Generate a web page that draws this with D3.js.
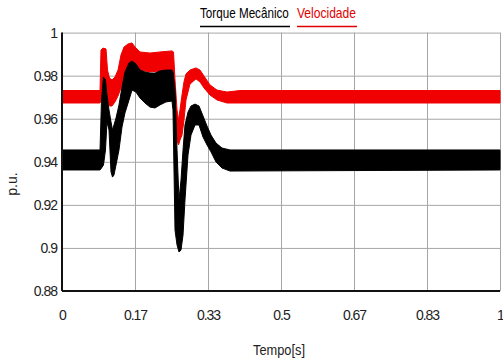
<!DOCTYPE html>
<html><head><meta charset="utf-8">
<script src="https://cdn.jsdelivr.net/npm/d3@7"></script>
<style>
html,body{margin:0;padding:0;background:#fff;}
svg{display:block;}
text{font-family:"Liberation Sans",Arial,sans-serif;}
</style></head>
<body>
<div id="chart"></div>
<script>
// ---- data ----
const xTicks = [0, 1/6, 2/6, 3/6, 4/6, 5/6, 1];
const xTickLabels = ["0", "0.17", "0.33", "0.5", "0.67", "0.83", "1"];
const yTicks = [0.88, 0.9, 0.92, 0.94, 0.96, 0.98, 1];
const yTickLabels = ["0.88", "0.9", "0.92", "0.94", "0.96", "0.98", "1"];
const seriesNames = ["Torque Mecânico", "Velocidade"];

// Torque Mecânico: time [s], lower envelope, upper envelope (p.u.)
const torqueT    = [0, 0.0868, 0.0902, 0.0947, 0.0993, 0.1027, 0.1073, 0.1119, 0.1153, 0.1187, 0.1233, 0.1301, 0.1370, 0.1438, 0.1530, 0.1598, 0.1689, 0.1781, 0.1895, 0.2009, 0.2123, 0.2237, 0.2374, 0.2511, 0.2534, 0.2580, 0.2626, 0.2671, 0.2717, 0.2763, 0.2808, 0.2877, 0.2945, 0.3037, 0.3128, 0.3219, 0.3311, 0.3402, 0.3516, 0.3653, 0.3836, 1];
const torqueLow  = [0.9362, 0.9362, 0.9371, 0.9385, 0.9455, 0.9585, 0.9548, 0.9353, 0.9329, 0.9339, 0.9385, 0.9455, 0.9562, 0.9627, 0.9687, 0.9733, 0.9724, 0.9696, 0.9673, 0.9654, 0.9650, 0.9664, 0.9678, 0.9682, 0.9641, 0.9083, 0.9014, 0.8981, 0.8990, 0.9060, 0.9223, 0.9432, 0.9524, 0.9571, 0.9571, 0.9515, 0.9478, 0.9446, 0.9399, 0.9371, 0.9357, 0.9362];
const torqueHigh = [0.9455, 0.9455, 0.9687, 0.9794, 0.9780, 0.9710, 0.9641, 0.9585, 0.9548, 0.9571, 0.9603, 0.9664, 0.9747, 0.9817, 0.9859, 0.9868, 0.9854, 0.9826, 0.9817, 0.9812, 0.9812, 0.9822, 0.9826, 0.9826, 0.9817, 0.9733, 0.9455, 0.9223, 0.9315, 0.9455, 0.9571, 0.9631, 0.9659, 0.9668, 0.9659, 0.9613, 0.9566, 0.9524, 0.9487, 0.9464, 0.9455, 0.9455];

// Velocidade: time [s], lower envelope, upper envelope (p.u.)
const velT    = [0, 0.0868, 0.0890, 0.0936, 0.1005, 0.1039, 0.1084, 0.1142, 0.1210, 0.1279, 0.1347, 0.1416, 0.1507, 0.1598, 0.1667, 0.1781, 0.2009, 0.2237, 0.2511, 0.2546, 0.2580, 0.2626, 0.2660, 0.2694, 0.2740, 0.2785, 0.2831, 0.2922, 0.3059, 0.3151, 0.3242, 0.3379, 0.3539, 0.3767, 0.4064, 1];
const velLow  = [0.9673, 0.9673, 0.9687, 0.9710, 0.9743, 0.9687, 0.9659, 0.9659, 0.9678, 0.9706, 0.9743, 0.9789, 0.9836, 0.9863, 0.9845, 0.9826, 0.9817, 0.9822, 0.9822, 0.9687, 0.9548, 0.9501, 0.9478, 0.9501, 0.9524, 0.9594, 0.9687, 0.9761, 0.9785, 0.9771, 0.9743, 0.9710, 0.9687, 0.9673, 0.9673, 0.9673];
const velHigh = [0.9731, 0.9731, 0.9919, 0.9928, 0.9924, 0.9826, 0.9789, 0.9780, 0.9794, 0.9826, 0.9896, 0.9933, 0.9947, 0.9952, 0.9933, 0.9910, 0.9905, 0.9910, 0.9915, 0.9910, 0.9780, 0.9641, 0.9594, 0.9641, 0.9710, 0.9771, 0.9808, 0.9826, 0.9836, 0.9826, 0.9798, 0.9757, 0.9733, 0.9724, 0.9731, 0.9731];

// ---- layout ----
const W = 503, H = 361;
const m = {left: 62, top: 32.6, right: 3, bottom: 70};
const iw = W - m.left - m.right, ih = 291 - m.top;

const svg = d3.select("#chart").append("svg").attr("width", W).attr("height", H);
const g = svg.append("g").attr("transform", `translate(${m.left},${m.top})`);

const x = d3.scaleLinear().domain([0, 1]).range([0, iw]);
const y = d3.scaleLinear().domain([0.88, 1]).range([ih, 0]);

// grid + axes
const gx = g.append("g").attr("transform", `translate(0,${ih})`)
  .call(d3.axisBottom(x).tickValues(xTicks).tickSize(-ih).tickPadding(19)
    .tickFormat((d, i) => xTickLabels[i]));
const gy = g.append("g")
  .call(d3.axisLeft(y).tickValues(yTicks).tickSize(-iw).tickPadding(5)
    .tickFormat((d, i) => yTickLabels[i]));
[gx, gy].forEach(a => {
  a.select(".domain").remove();
  a.selectAll(".tick line").attr("stroke", "#a6a6a6").attr("stroke-width", 1);
  a.selectAll(".tick text").attr("fill", "#222").style("font-size", "14px")
    .style("letter-spacing", "-1px");
});
gy.selectAll(".tick text").attr("dy", "0.35em");

// series bands
const band = d3.area().x(d => x(d[0])).y0(d => y(d[1])).y1(d => y(d[2]));
const velData = velT.map((t, i) => [t, velLow[i], velHigh[i]]);
const torqueData = torqueT.map((t, i) => [t, torqueLow[i], torqueHigh[i]]);
g.append("path").datum(velData).attr("d", band)
  .attr("fill", "#f00000").attr("stroke", "#f00000").attr("stroke-width", 1);
g.append("path").datum(torqueData).attr("d", band)
  .attr("fill", "#000").attr("stroke", "#000").attr("stroke-width", 1);

// axis frame lines (left / bottom dark)
g.append("line").attr("x1", 0).attr("x2", 0).attr("y1", 0).attr("y2", ih)
  .attr("stroke", "#111").attr("stroke-width", 2);
g.append("line").attr("x1", 0).attr("x2", iw).attr("y1", ih).attr("y2", ih)
  .attr("stroke", "#111").attr("stroke-width", 2);

// condensed text helper: squeeze horizontally to a target width
function squeezed(parent, str, x0, yb, w, color, anchor) {
  const t = parent.append("text").attr("y", 0).attr("x", 0)
    .style("font-size", "14px").attr("fill", color).text(str);
  const len = t.node().getComputedTextLength();
  const s = w / len;
  const left = anchor === "middle" ? x0 - w / 2 : x0;
  t.attr("transform", `translate(${left},${yb}) scale(${s},1)`);
  return t;
}

// axis titles
squeezed(svg, "Tempo[s]", 279, 355, 52, "#222", "middle");
svg.append("text").attr("transform", "translate(17,184) rotate(-90)")
  .attr("text-anchor", "middle").style("font-size", "14px").attr("fill", "#222").text("p.u.");

// legend
const leg = [
  {name: seriesNames[0], x: 200, w: 89, color: "#000"},
  {name: seriesNames[1], x: 297, w: 59, color: "#e00000"}
];
leg.forEach(l => {
  squeezed(svg, l.name, l.x, 18, l.w, l.color, "start");
  svg.append("line").attr("x1", l.x).attr("x2", l.x + l.w + 1).attr("y1", 26.5).attr("y2", 26.5)
    .attr("stroke", l.color).attr("stroke-width", 1.5);
});
</script>
</body></html>
